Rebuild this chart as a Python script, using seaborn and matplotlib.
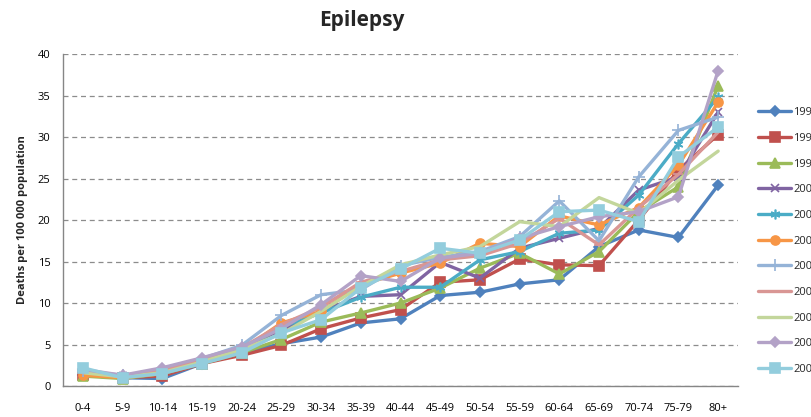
import numpy as np
import pandas as pd
import matplotlib
matplotlib.use("Agg")
import matplotlib.pyplot as plt
import seaborn as sns

age_groups = ["0-4", "5-9", "10-14", "15-19", "20-24", "25-29", "30-34", "35-39",
              "40-44", "45-49", "50-54", "55-59", "60-64", "65-69", "70-74", "75-79", "80+"]
years = ["1997", "1998", "1999", "2000", "2001", "2002", "2003", "2004", "2005", "2006", "2007"]

rate_1997 = [1.3, 1.0, 0.9, 2.7, 4.0, 5.1, 5.9, 7.6, 8.1, 10.9, 11.3, 12.3, 12.8, 16.8, 18.8, 17.9, 24.2]
rate_1998 = [1.3, 1.0, 1.2, 2.7, 3.7, 4.9, 6.9, 8.2, 9.2, 12.5, 12.8, 15.3, 14.6, 14.5, 20.0, 26.0, 30.3]
rate_1999 = [1.2, 0.9, 1.5, 2.7, 4.0, 5.6, 7.7, 8.8, 10.0, 11.8, 14.2, 16.0, 13.5, 16.2, 21.0, 24.0, 36.2]
rate_2000 = [1.5, 1.2, 1.5, 3.0, 4.5, 6.6, 9.0, 10.8, 11.0, 14.9, 13.0, 16.6, 17.8, 19.0, 23.6, 25.2, 33.0]
rate_2001 = [1.7, 1.2, 1.5, 2.8, 4.3, 7.1, 8.8, 10.7, 11.9, 11.9, 15.2, 16.2, 18.4, 18.8, 23.0, 29.2, 34.8]
rate_2002 = [1.3, 1.0, 1.5, 2.9, 4.3, 7.6, 9.0, 12.2, 13.6, 14.8, 17.2, 16.8, 20.5, 19.4, 21.5, 26.6, 34.2]
rate_2003 = [1.8, 1.3, 1.8, 3.3, 4.9, 8.5, 11.0, 11.6, 14.5, 15.5, 16.2, 18.0, 22.3, 17.5, 25.2, 30.8, 32.4]
rate_2004 = [1.7, 1.2, 1.8, 3.1, 4.6, 7.4, 9.5, 12.5, 13.8, 15.2, 15.7, 17.2, 20.2, 17.0, 21.5, 25.5, 30.6]
rate_2005 = [1.6, 1.1, 1.6, 2.9, 4.4, 6.3, 9.0, 12.0, 14.6, 15.8, 16.8, 19.8, 19.2, 22.7, 20.8, 24.8, 28.3]
rate_2006 = [2.0, 1.3, 2.2, 3.4, 4.7, 6.9, 9.8, 13.3, 12.6, 15.4, 16.0, 17.8, 19.2, 20.4, 21.0, 22.8, 38.0]
rate_2007 = [2.2, 1.0, 1.5, 2.7, 4.0, 6.4, 8.0, 11.8, 14.1, 16.6, 16.0, 17.6, 21.0, 21.2, 19.8, 27.6, 31.2]

rates = [rate_1997, rate_1998, rate_1999, rate_2000, rate_2001, rate_2002,
         rate_2003, rate_2004, rate_2005, rate_2006, rate_2007]

colors = ["#4F81BD", "#C0504D", "#9BBB59", "#8064A2", "#4BACC6", "#F79646",
          "#95B3D7", "#D99694", "#C3D69B", "#B3A2C7", "#93CDDD"]
markers = ["D", "s", "^", "x", (6, 2, 0), "o", "+", "_", "", "D", "s"]
msizes = [5, 6.5, 7, 6, 7, 6.5, 8, 7, 0, 5, 6.5]

sns.set_theme(style="white")
plt.rcParams["font.family"] = ["Open Sans", "DejaVu Sans"]

fig = plt.figure(figsize=(8.11, 4.17), dpi=100)
ax = fig.add_axes([0.0777, 0.0743, 0.8323, 0.7962])

pos = np.arange(len(age_groups))
for year, vals, col, mk, ms in zip(years, rates, colors, markers, msizes):
    df = pd.DataFrame({"pos": pos, "rate": vals})
    sns.lineplot(data=df, x="pos", y="rate", ax=ax, color=col, linewidth=2.4,
                 marker=mk if mk else None, markersize=ms, markeredgecolor=col,
                 markeredgewidth=1.2, label=year)

ax.set_xlim(-0.5, len(age_groups) - 0.5)
ax.set_ylim(0, 40)
ax.set_yticks(np.arange(0, 41, 5))
ax.set_xticks(pos)
ax.set_xticklabels(age_groups)
ax.tick_params(axis="x", length=0, pad=12, labelsize=8, colors="#000000")
ax.tick_params(axis="y", length=0, pad=9, labelsize=8, colors="#000000")
ax.set_xlabel("")
ax.set_ylabel("Deaths per 100 000 population", fontsize=8, fontweight="bold", labelpad=7)

ax.yaxis.grid(True, linestyle=(0, (4, 3)), color="#8C8C8C", linewidth=0.9)
ax.xaxis.grid(False)
ax.set_axisbelow(True)
for side in ["top", "right"]:
    ax.spines[side].set_visible(False)
for side in ["left", "bottom"]:
    ax.spines[side].set_color("#868686")
    ax.spines[side].set_linewidth(1.0)

fig.text(0.446, 0.95, "Epilepsy", ha="center", va="center", fontsize=15, fontweight="bold")

handles, labels = ax.get_legend_handles_labels()
ax.get_legend().remove()
fig.legend(handles, labels, loc="upper left", bbox_to_anchor=(0.9346, 0.743),
           frameon=False, fontsize=8, handlelength=3.0, handletextpad=0.2,
           labelspacing=1.32, borderpad=0, borderaxespad=0)

fig.savefig("out.png", dpi=100)
